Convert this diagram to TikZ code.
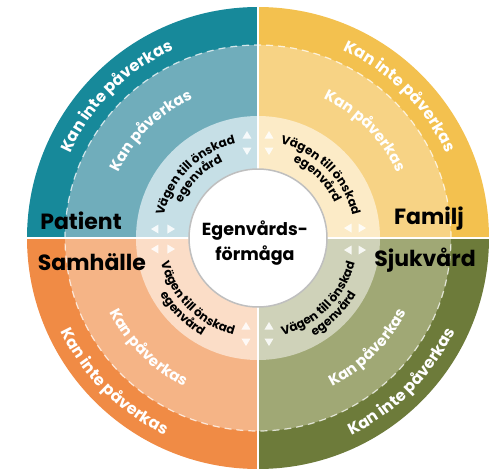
\documentclass[tikz,border=0pt]{standalone}
\usepackage{fontspec}
\setmainfont{Poppins}
\usetikzlibrary{decorations.text}
\definecolor{tA}{HTML}{17899A}
\definecolor{tB}{HTML}{70ADBB}
\definecolor{tC}{HTML}{C6DFE6}
\definecolor{yA}{HTML}{F3C14F}
\definecolor{yB}{HTML}{F7D385}
\definecolor{yC}{HTML}{FCEBC7}
\definecolor{oA}{HTML}{F08B45}
\definecolor{oB}{HTML}{F5B486}
\definecolor{oC}{HTML}{FBDDC7}
\definecolor{gA}{HTML}{6D7B3A}
\definecolor{gB}{HTML}{A0A875}
\definecolor{gC}{HTML}{CFD2B9}
\newcommand\fout{\bfseries\fontsize{16}{16}\selectfont}
\newcommand\fmid{\bfseries\fontsize{15}{15}\selectfont}
\newcommand\fin{\bfseries\fontsize{12}{12}\selectfont}
\newcommand\quadfill[2]{%
  \fill[#2] (0,0) -- (#1:231) arc[start angle=#1, end angle=#1+90, radius=231pt] -- cycle;}
\newcommand\quadring[4]{%
  \quadfill{#1}{#2}
  \fill[#3] (0,0) -- (#1:193) arc[start angle=#1, end angle=#1+90, radius=193pt] -- cycle;
  \fill[#4] (0,0) -- (#1:122) arc[start angle=#1, end angle=#1+90, radius=122pt] -- cycle;}
\newcommand\tri[3]{\fill[white,opacity=.85,shift={(#1,#2)},rotate=#3] (0,4) -- (-4.5,-3.5) -- (4.5,-3.5) -- cycle;}
\tikzset{
  label/.style={font=\bfseries\fontsize{22}{22}\selectfont, text=black},
  gapline/.style={white, line width=2pt},
}
\begin{document}
\begin{tikzpicture}[x=1pt,y=1pt]
\useasboundingbox (-258,-234) rectangle (232,238);
% quadrants
\quadring{90}{tA}{tB}{tC}
\quadring{0}{yA}{yB}{yC}
\quadring{180}{oA}{oB}{oC}
\quadring{270}{gA}{gB}{gC}
% gaps
\draw[gapline] (0,-232) -- (0,232);
\draw[gapline] (-232,0) -- (232,0);
% dashed circle
\draw[white, opacity=.75, line width=1.2pt, dash pattern=on 7pt off 5pt] (0,0) circle[radius=193pt];
% centre circle
\fill[white] (0,0) circle[radius=69pt];
\draw[black!25, line width=1.5pt] (0,0) circle[radius=69pt];
\node[align=center, font=\bfseries\fontsize{17.5}{25}\selectfont] (centre) at (-3,-5) {Egenvårds-\\förmåga};
% labels
\node[label] (patient) at (-177,17) {Patient};
\node[label] (familj) at (171,19) {Familj};
\node[label] (samhalle) at (-166,-24) {Samhälle};
\node[label] (sjukvard) at (167,-22) {Sjukvård};
% outer band texts
\path[decorate, decoration={text along path, text={|\fout|Kan inte påverkas}, text align=center, text color=white}] (178:206) arc[start angle=178, end angle=92, radius=206pt];
\path[decorate, decoration={text along path, text={|\fout|Kan inte påverkas}, text align=center, text color=white}] (88:206) arc[start angle=88, end angle=2, radius=206pt];
\path[decorate, decoration={text along path, text={|\fout|Kan inte påverkas}, text align=center, text color=white}] (182:218) arc[start angle=182, end angle=268, radius=218pt];
\path[decorate, decoration={text along path, text={|\fout|Kan inte påverkas}, text align=center, text color=white}] (272:218) arc[start angle=272, end angle=358, radius=218pt];
% middle band texts
\path[decorate, decoration={text along path, text={|\fmid|Kan påverkas}, text align=center, text color=white}] (178:154) arc[start angle=178, end angle=92, radius=154pt];
\path[decorate, decoration={text along path, text={|\fmid|Kan påverkas}, text align=center, text color=white}] (88:154) arc[start angle=88, end angle=2, radius=154pt];
\path[decorate, decoration={text along path, text={|\fmid|Kan påverkas}, text align=center, text color=white}] (182:166) arc[start angle=182, end angle=268, radius=166pt];
\path[decorate, decoration={text along path, text={|\fmid|Kan påverkas}, text align=center, text color=white}] (272:166) arc[start angle=272, end angle=358, radius=166pt];
% inner ring texts
\foreach \s in {178,88} {
  \path[decorate, decoration={text along path, text={|\fin|Vägen till önskad}, text align=center, text color=black}] (\s:97) arc[start angle=\s, end angle=\s-86, radius=97pt];
  \path[decorate, decoration={text along path, text={|\fin|egenvård}, text align=center, text color=black}] (\s:84) arc[start angle=\s, end angle=\s-86, radius=84pt];
}
\foreach \s in {182,272} {
  \path[decorate, decoration={text along path, text={|\fin|Vägen till önskad}, text align=center, text color=black}] (\s:100) arc[start angle=\s, end angle=\s+86, radius=100pt];
  \path[decorate, decoration={text along path, text={|\fin|egenvård}, text align=center, text color=black}] (\s:113) arc[start angle=\s, end angle=\s+86, radius=113pt];
}
% triangles near vertical divider
\tri{-11}{103}{0} \tri{-11}{87}{180}
\tri{11}{103}{0} \tri{11}{87}{180}
\tri{-12}{-88}{0} \tri{-12}{-104}{180}
\tri{11}{-88}{0} \tri{11}{-104}{180}
% triangles near horizontal divider
\tri{-103}{9}{90} \tri{-87}{9}{-90}
\tri{-103}{-11}{90} \tri{-87}{-11}{-90}
\tri{90}{10}{90} \tri{104}{10}{-90}
\tri{90}{-12}{90} \tri{104}{-12}{-90}
\end{tikzpicture}
\end{document}
